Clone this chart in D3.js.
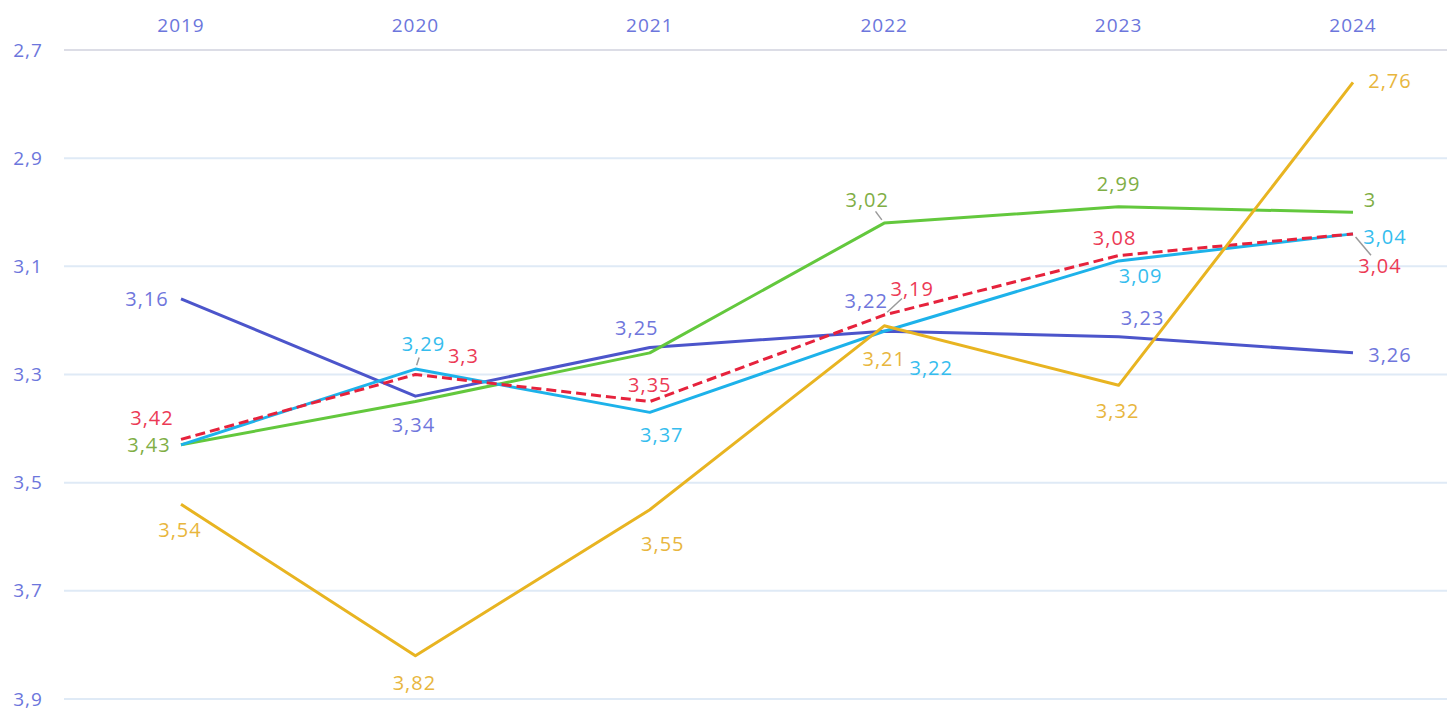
<!DOCTYPE html>
<html>
<head>
<meta charset="utf-8">
<script src="https://cdn.jsdelivr.net/npm/d3@7"></script>
<style>
  html, body { margin: 0; padding: 0; background: #fff; }
  svg text { font-family: "Open Sans", "DejaVu Sans", sans-serif; letter-spacing: 1px; }
</style>
</head>
<body>
<div id="chart"></div>
<script>
// chart data
var years = ["2019", "2020", "2021", "2022", "2023", "2024"];
var yTicks = [2.7, 2.9, 3.1, 3.3, 3.5, 3.7, 3.9];

var blueValues   = [3.16, 3.34, 3.25, 3.22, 3.23, 3.26];
var greenValues  = [3.43, 3.35, 3.26, 3.02, 2.99, 3.00];
var cyanValues   = [3.43, 3.29, 3.37, 3.22, 3.09, 3.04];
var redValues    = [3.42, 3.30, 3.35, 3.19, 3.08, 3.04];
var yellowValues = [3.54, 3.82, 3.55, 3.21, 3.32, 2.76];

// label placement (offset from point), null = label hidden, third item = draw a leader line
var blueLabels   = [[-34, 0], [-2, 29], [-13, -19], [-18, -30], [24, -19], [37, 2]];
var greenLabels  = [[-32, 0], null, null, [-17, -23, 1], [0, -23], [17, -12]];
var cyanLabels   = [null, [8, -25, 1], [12, 23], [47, 37], [22, 15], [32, 3]];
var redLabels    = [[-29, -21], [48, -19], [0, -17], [28, -26, 1], [-4, -18], [27, 32, 1]];
var yellowLabels = [[-1, 26], [-1, 27], [13, 34], [0, 33], [-1, 26], [37, -1]];

var series = [
  { values: blueValues,   labels: blueLabels,   line: "#4c55cb", text: "#6f76dc", dash: null },
  { values: greenValues,  labels: greenLabels,  line: "#63c83d", text: "#7fae45", dash: null },
  { values: cyanValues,   labels: cyanLabels,   line: "#1db2ea", text: "#35bdee", dash: null },
  { values: redValues,    labels: redLabels,    line: "#e6223c", text: "#ec3a55", dash: "10,5" },
  { values: yellowValues, labels: yellowLabels, line: "#e8b421", text: "#e8b63d", dash: null }
];

var width = 1447, height = 708;

var svg = d3.select("#chart").append("svg")
  .attr("width", width)
  .attr("height", height);

var x = d3.scalePoint()
  .domain(years)
  .range([181, 1353]);

var y = d3.scaleLinear()
  .domain([2.7, 3.9])
  .range([50, 699]);

var fmt = function(v) { return String(+v.toFixed(2)).replace(".", ","); };

// grid lines
svg.append("g")
  .selectAll("line")
  .data(yTicks)
  .enter().append("line")
  .attr("x1", 64)
  .attr("x2", width)
  .attr("y1", function(d) { return y(d); })
  .attr("y2", function(d) { return y(d); })
  .style("stroke", function(d, i) { return i === 0 ? "#dcdde6" : "#dfeaf6"; })
  .style("stroke-width", 2);

// y tick labels
svg.append("g")
  .selectAll("text")
  .data(yTicks)
  .enter().append("text")
  .attr("x", 28)
  .attr("y", function(d) { return y(d); })
  .attr("dy", "0.35em")
  .attr("text-anchor", "middle")
  .style("fill", "#6c76dc")
  .style("font-size", "19px")
  .text(function(d) { return String(d).replace(".", ","); });

// year labels at the top
svg.append("g")
  .selectAll("text")
  .data(years)
  .enter().append("text")
  .attr("x", function(d) { return x(d); })
  .attr("y", 25)
  .attr("dy", "0.35em")
  .attr("text-anchor", "middle")
  .style("fill", "#6c76dc")
  .style("font-size", "19px")
  .text(function(d) { return d; });

var line = d3.line()
  .x(function(d, i) { return x(years[i]); })
  .y(function(d) { return y(d); });

// lines
series.forEach(function(s) {
  svg.append("path")
    .datum(s.values)
    .attr("d", line)
    .style("fill", "none")
    .style("stroke", s.line)
    .style("stroke-width", 3)
    .style("stroke-linejoin", "round")
    .style("stroke-dasharray", s.dash);
});

// value labels
series.forEach(function(s) {
  s.values.forEach(function(v, i) {
    var off = s.labels[i];
    if (!off) return;
    var px = x(years[i]), py = y(v);
    var lx = px + off[0], ly = py + off[1];
    if (off[2]) {
      // leader line from point towards the label
      var dx = off[0], dy = off[1];
      var len = Math.sqrt(dx * dx + dy * dy);
      svg.append("line")
        .attr("x1", px + dx / len * 4)
        .attr("y1", py + dy / len * 4)
        .attr("x2", px + dx / len * (len - 14))
        .attr("y2", py + dy / len * (len - 14))
        .style("stroke", "#9a9a9a")
        .style("stroke-width", 1.5);
    }
    svg.append("text")
      .attr("x", lx)
      .attr("y", ly)
      .attr("dy", "0.35em")
      .attr("text-anchor", "middle")
      .style("fill", s.text)
      .style("font-size", "20px")
      .text(fmt(v));
  });
});
</script>
</body>
</html>
